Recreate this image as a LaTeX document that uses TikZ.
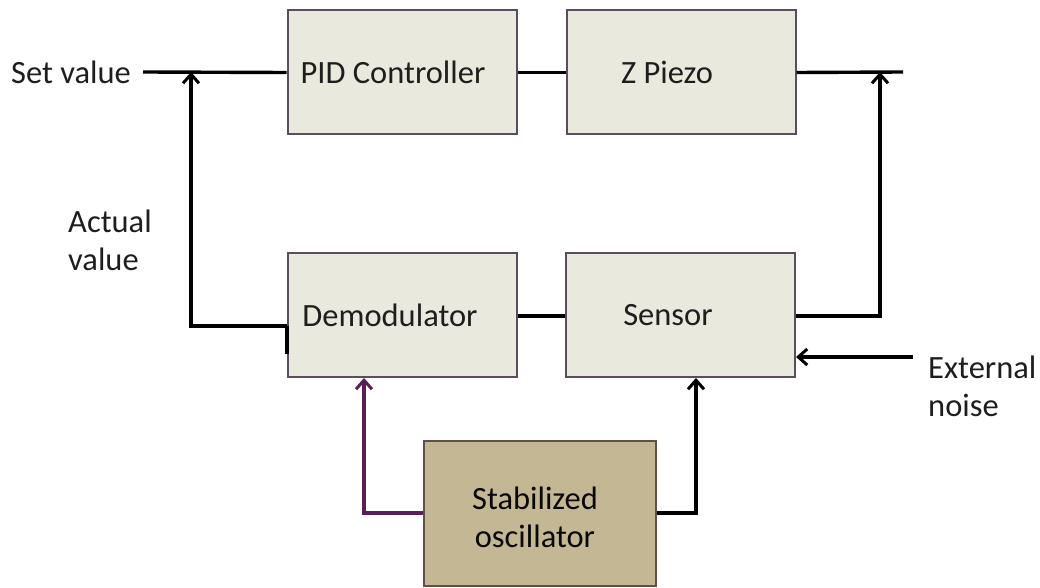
\documentclass[tikz,border=0pt]{standalone}
\usepackage{fontspec}
\setmainfont{Carlito}
\usetikzlibrary{arrows.meta}
\definecolor{boxfill}{HTML}{E9E9DE}
\definecolor{boxedge}{HTML}{5A4E5C}
\definecolor{oscfill}{HTML}{C4B894}
\definecolor{oscedge}{HTML}{5E5248}
\definecolor{plum}{HTML}{5A1E5A}
\definecolor{txt}{HTML}{1E1E1E}
\tikzset{
  blockbox/.style={draw=boxedge, line width=2pt, fill=boxfill, minimum width=229pt, minimum height=124pt, inner sep=0pt},
  oscbox/.style={draw=oscedge, line width=2pt, fill=oscfill, minimum width=232pt, minimum height=145pt, inner sep=0pt},
  lbl/.style={font=\fontsize{32.5}{38}\selectfont, text=txt, inner sep=0pt},
  wire/.style={line width=3.4pt, black},
  arr/.style={wire, -{Straight Barb[length=9pt,width=16pt,line width=3pt]}},
}
\begin{document}
\begin{tikzpicture}[x=1pt,y=-1pt]
\useasboundingbox (0,0) rectangle (1040,588);
% boxes
\node[blockbox] (pid) at (402,72.5) {};
\node[blockbox] (zp) at (681,72.5) {};
\node[blockbox] (dem) at (402.5,315) {};
\node[blockbox] (sen) at (680.5,315) {};
\node[oscbox] (osc) at (540,513) {};
% texts
\node[lbl] (pidt) at (393,72) {PID Controller};
\node[lbl] (zpt) at (667,72) {Z Piezo};
\node[lbl] (demt) at (390,315) {Demodulator};
\node[lbl] (sent) at (668,315) {Sensor};
\node[lbl, align=center, text=black!90!oscedge] (osct) at (535,517) {Stabilized\\oscillator};
\node[lbl, anchor=east] (setv) at (131,72) {Set value};
\node[lbl, anchor=west, align=left] (actv) at (68,240) {Actual\\value};
\node[lbl, anchor=west, align=left] (extn) at (928,386) {External\\noise};
% coordinates
\coordinate (sl) at (143,72);
\coordinate (fbx) at (191,72);
\coordinate (fbc) at (191,326);
\coordinate (outr) at (903,72);
\coordinate (ox) at (880,72);
\coordinate (oc) at (880,316);
\coordinate (ns) at (913,357);
\coordinate (nsr) at (sen.east |- ns);
\coordinate (ol) at (364,513);
\coordinate (or) at (696,513);
% connectors
\draw[wire] (sl) -- (pid.west);
\draw[wire] (pid.east) -- (zp.west);
\draw[wire] (zp.east) -- (outr);
\draw[arr] (dem.west |- fbc) -- (fbc) -- (fbx);
\draw[wire] (dem.west |- fbc) -- ++(0,28);
\draw[wire] (dem.east |- 0,316) -- (sen.west |- 0,316);
\draw[arr] (sen.east |- oc) -- (oc) -- (ox);
\draw[arr] (ns) -- (nsr);
\draw[arr, plum] (osc.west |- ol) -- (ol) -- (dem.south -| ol);
\draw[arr] (osc.east |- or) -- (or) -- (sen.south -| or);
\end{tikzpicture}
\end{document}
